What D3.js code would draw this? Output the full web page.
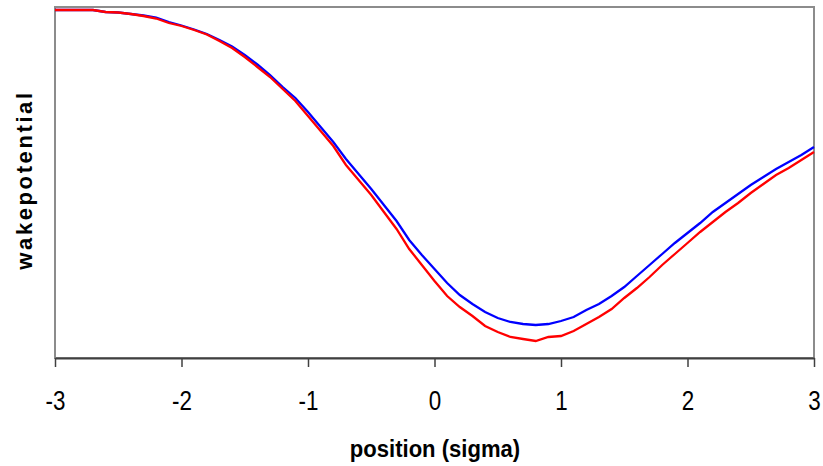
<!DOCTYPE html>
<html>
<head>
<meta charset="utf-8">
<script src="https://cdn.jsdelivr.net/npm/d3@7"></script>
<style>
  body { margin: 0; background: #fff; }
  text { font-family: Arial, "Liberation Sans", sans-serif; }
</style>
</head>
<body>
<svg width="823" height="466"></svg>
<script>
// positie in sigma (x-as)
var positions = [-3.0, -2.9, -2.8, -2.7, -2.6, -2.5, -2.4, -2.3, -2.2, -2.1,
  -2.0, -1.9, -1.8, -1.7, -1.6, -1.5, -1.4, -1.3, -1.2, -1.1,
  -1.0, -0.9, -0.8, -0.7, -0.6, -0.5, -0.4, -0.3, -0.2, -0.1,
  0.0, 0.1, 0.2, 0.3, 0.4, 0.5, 0.6, 0.7, 0.8, 0.9,
  1.0, 1.1, 1.2, 1.3, 1.4, 1.5, 1.6, 1.7, 1.8, 1.9,
  2.0, 2.1, 2.2, 2.3, 2.4, 2.5, 2.6, 2.7, 2.8, 2.9, 3.0];

// rode lijn
var wakeRed = [0, 0, 0, 0, -0.2, -0.25, -0.4, -0.6, -0.85, -1.3,
  -1.6, -2.0, -2.45, -3.1, -3.8, -4.7, -5.7, -6.7, -7.9, -9.1,
  -10.6, -12.1, -13.6, -15.5, -17.0, -18.5, -20.2, -21.9, -23.9, -25.5,
  -27.1, -28.6, -29.7, -30.6, -31.6, -32.2, -32.7, -32.9, -33.1, -32.7,
  -32.6, -32.1, -31.4, -30.7, -29.9, -28.8, -27.8, -26.7, -25.5, -24.4,
  -23.3, -22.2, -21.2, -20.2, -19.3, -18.3, -17.4, -16.5, -15.8, -15.0, -14.2];

// blauwe lijn
var wakeBlue = [0, 0, 0, 0, -0.2, -0.25, -0.4, -0.55, -0.75, -1.2,
  -1.55, -1.95, -2.4, -3.0, -3.65, -4.5, -5.45, -6.5, -7.7, -8.8,
  -10.2, -11.7, -13.2, -14.9, -16.4, -17.9, -19.5, -21.1, -23.0, -24.5,
  -25.9, -27.3, -28.5, -29.4, -30.2, -30.8, -31.2, -31.4, -31.5, -31.4,
  -31.1, -30.7, -30.0, -29.4, -28.6, -27.7, -26.6, -25.5, -24.4, -23.3,
  -22.3, -21.3, -20.2, -19.3, -18.4, -17.5, -16.7, -15.9, -15.2, -14.5, -13.7];

var tickValues = [-3, -2, -1, 0, 1, 2, 3];

var svg = d3.select("svg"),
    margin = {top: 7, right: 9, bottom: 108, left: 55},
    width = svg.attr("width") - margin.left - margin.right,
    height = svg.attr("height") - margin.top - margin.bottom,
    g = svg.append("g").attr("transform", "translate(" + margin.left + "," + margin.top + ")");

var x = d3.scaleLinear().domain([-3, 3]).range([0, width]),
    y = d3.scaleLinear().domain([-34.8, 0.3]).range([height, 0]);

var line = d3.line()
    .x(function(d) { return x(d.pos); })
    .y(function(d) { return y(d.wake); });

function series(values) {
  return positions.map(function(p, i) { return {pos: p, wake: values[i]}; });
}

// kader rond het plotgebied (grijs)
g.append("rect")
    .attr("x", 0)
    .attr("y", 0)
    .attr("width", width)
    .attr("height", height)
    .attr("fill", "none")
    .attr("stroke", "#8c8c8c")
    .attr("stroke-width", 2);

// lijnen, rood boven blauw
g.append("path")
    .datum(series(wakeBlue))
    .attr("fill", "none")
    .attr("stroke", "#0000ff")
    .attr("stroke-width", 2.3)
    .attr("d", line);

g.append("path")
    .datum(series(wakeRed))
    .attr("fill", "none")
    .attr("stroke", "#ff0000")
    .attr("stroke-width", 2.3)
    .attr("d", line);

// x-as
var xAxis = g.append("g")
    .attr("transform", "translate(0," + height + ")")
    .call(d3.axisBottom(x).tickValues(tickValues).tickSize(9).tickSizeOuter(0).tickPadding(23)
      .tickFormat(function(d) { return d; }));

xAxis.select(".domain").attr("stroke", "#404040").attr("stroke-width", 2);
xAxis.selectAll(".tick line").attr("stroke", "#404040").attr("stroke-width", 1.5);
xAxis.selectAll(".tick text")
    .attr("fill", "#000")
    .style("font-size", "28px")
    .attr("transform", "scale(0.8,1)");

// x-as titel
svg.append("text")
    .attr("transform", "translate(435,457) scale(0.92,1)")
    .attr("text-anchor", "middle")
    .style("font-size", "24px")
    .style("font-weight", "bold")
    .text("position (sigma)");

// y-as titel
svg.append("text")
    .attr("transform", "translate(32,180) rotate(-90)")
    .attr("text-anchor", "middle")
    .style("font-size", "22px")
    .style("font-weight", "bold")
    .style("letter-spacing", "2.6px")
    .text("wakepotential");
</script>
</body>
</html>
